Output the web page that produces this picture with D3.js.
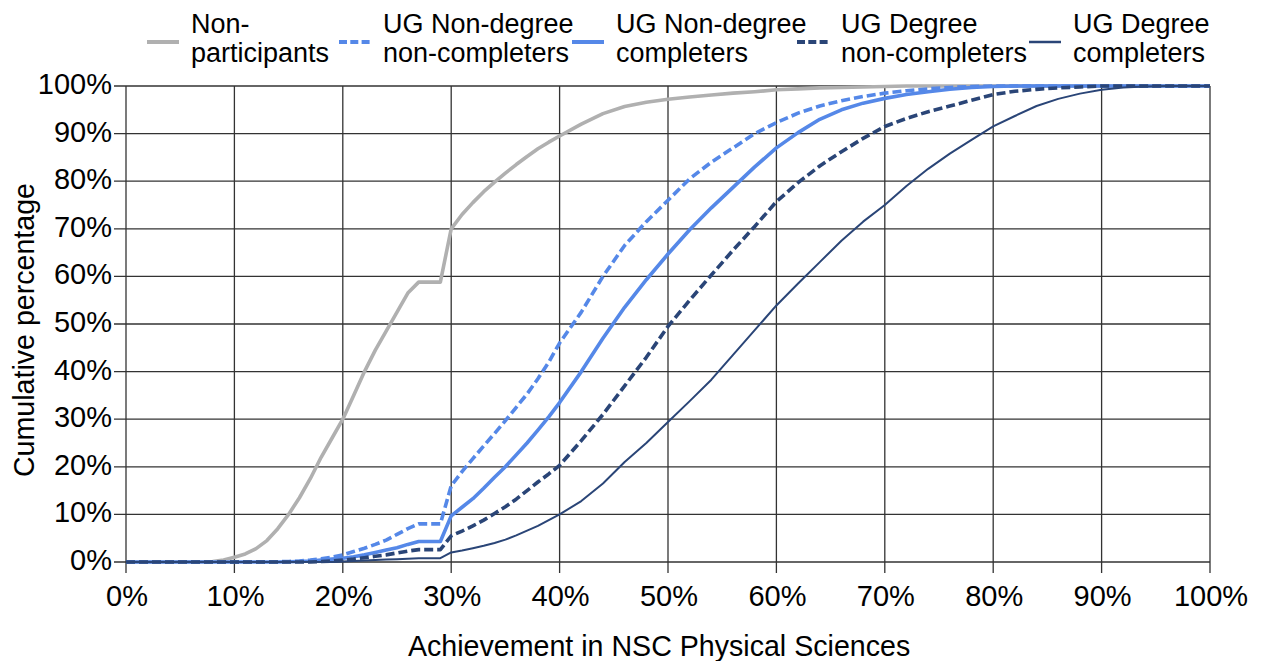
<!DOCTYPE html>
<html>
<head>
<meta charset="utf-8">
<script src="https://cdn.jsdelivr.net/npm/d3@7"></script>
<style>
  html, body { margin: 0; padding: 0; background: #fff; }
  svg { display: block; font-family: "Liberation Sans", Arial, sans-serif; }
</style>
</head>
<body>
<svg id="chart" width="1261" height="661"></svg>
<script>
// Achievement levels (x, %)
const xs = [0,5,8,9,10,11,12,13,14,15,16,17,18,19,20,21,22,23,24,25,26,27,28,29,30,31,32,33,34,35,36,37,38,39,40,42,44,46,48,50,52,54,56,58,60,62,64,66,68,70,72,74,76,78,80,82,84,86,88,90,92,94,96,98,100];

const nonParticipants = [0,0,0.1,0.4,1.0,1.7,2.8,4.5,7,10,13.5,17.5,22,26,30,35,40,44.5,48.5,52.5,56.5,58.8,58.8,58.8,70,73,75.5,77.8,79.8,81.7,83.5,85.2,86.8,88.2,89.5,
  92,94.2,95.7,96.6,97.2,97.7,98.1,98.5,98.8,99.2,99.4,99.6,99.7,99.8,99.9,100,100,100,100,100,100,100,100,100,100,100,100,100,100,100];

const ugNonDegreeNonCompleters = [0,0,0,0,0,0,0,0,0.05,0.1,0.2,0.4,0.7,1.0,1.5,2.2,2.9,3.7,4.6,5.8,7,8,8,8,16,19,21.7,24.4,27,29.7,32.5,35.3,38.5,42,46,
  52.5,60,66.5,71.5,76,80.5,84,87,90,92.3,94.3,95.8,96.9,97.8,98.5,99,99.4,99.7,99.9,100,100,100,100,100,100,100,100,100,100,100];

const ugNonDegreeCompleters = [0,0,0,0,0,0,0,0,0,0.05,0.1,0.2,0.4,0.6,0.8,1.1,1.5,2.0,2.5,3.0,3.7,4.3,4.3,4.3,9.7,11.5,13.3,15.5,17.8,20,22.5,25,27.7,30.5,33.5,
  40,47,53.5,59.3,64.7,69.8,74.4,78.7,83,87,90.2,93,95,96.4,97.4,98.2,98.8,99.3,99.7,99.9,100,100,100,100,100,100,100,100,100,100];

const ugDegreeNonCompleters = [0,0,0,0,0,0,0,0,0,0,0,0,0.1,0.2,0.4,0.6,0.9,1.2,1.5,1.9,2.3,2.6,2.6,2.6,5.5,6.5,7.6,8.8,10.2,11.6,13.2,15,16.8,18.5,20.3,
  25.5,31,37,43,49.5,55,60.3,65.5,70.5,75.7,79.7,83.2,86.2,89,91.5,93.2,94.6,95.8,97,98.2,98.9,99.3,99.6,99.8,100,100,100,100,100,100];

const ugDegreeCompleters = [0,0,0,0,0,0,0,0,0,0,0,0,0,0,0.1,0.2,0.3,0.4,0.5,0.6,0.7,0.8,0.8,0.8,2,2.4,2.9,3.4,4,4.7,5.6,6.6,7.6,8.8,10,
  12.8,16.5,21,25,29.4,33.8,38.3,43.5,48.7,53.9,58.5,63,67.5,71.5,75,79,82.6,85.8,88.7,91.5,93.7,95.8,97.3,98.4,99.2,99.7,99.9,100,100,100];

const seriesNames = [["Non-","participants"],["UG Non-degree","non-completers"],["UG Non-degree","completers"],["UG Degree","non-completers"],["UG Degree","completers"]];
const xTicks = [0,10,20,30,40,50,60,70,80,90,100];
const yTicks = [0,10,20,30,40,50,60,70,80,90,100];
const xTitle = "Achievement in NSC Physical Sciences";
const yTitle = "Cumulative percentage";

const styles = [
  {color: "#b0b0b0", width: 3.6, dash: null},
  {color: "#5588e8", width: 3.6, dash: "9,4"},
  {color: "#5588e8", width: 3.6, dash: null},
  {color: "#2a4577", width: 3.6, dash: "9,4"},
  {color: "#2a4577", width: 2.0, dash: null}
];
const allSeries = [nonParticipants, ugNonDegreeNonCompleters, ugNonDegreeCompleters, ugDegreeNonCompleters, ugDegreeCompleters];

const svg = d3.select("#chart");
const x = d3.scaleLinear().domain([0, 100]).range([126, 1210]);
const y = d3.scaleLinear().domain([0, 100]).range([562, 86]);
const gridColor = "#333";

// gridlines
svg.append("g").selectAll("line").data(yTicks).join("line")
  .attr("x1", x(0) - 12).attr("x2", x(100))
  .attr("y1", d => y(d)).attr("y2", d => y(d))
  .attr("stroke", gridColor).attr("stroke-width", 1.3);
svg.append("g").selectAll("line").data(xTicks).join("line")
  .attr("x1", d => x(d)).attr("x2", d => x(d))
  .attr("y1", y(100)).attr("y2", y(0) + 11)
  .attr("stroke", gridColor).attr("stroke-width", 1.3);

// tick labels
svg.append("g").selectAll("text").data(yTicks).join("text")
  .attr("x", x(0) - 14).attr("y", d => y(d) + 8)
  .attr("text-anchor", "end").attr("font-size", 29).attr("fill", "#000")
  .text(d => d + "%");
svg.append("g").selectAll("text").data(xTicks).join("text")
  .attr("x", d => x(d) + 1).attr("y", 606)
  .attr("text-anchor", "middle").attr("font-size", 29).attr("fill", "#000")
  .text(d => d + "%");

// axis titles
svg.append("text").attr("x", 408).attr("y", 656).attr("font-size", 28.6).attr("fill", "#000").text(xTitle);
svg.append("text").attr("transform", "translate(34,330) rotate(-90)")
  .attr("text-anchor", "middle").attr("font-size", 28.6).attr("fill", "#000").text(yTitle);

// lines
const line = d3.line().x((d, i) => x(xs[i])).y(d => y(d));
allSeries.forEach((s, k) => {
  svg.append("path").datum(s)
    .attr("d", line)
    .attr("fill", "none")
    .attr("stroke", styles[k].color)
    .attr("stroke-width", styles[k].width)
    .attr("stroke-linejoin", "round")
    .attr("stroke-dasharray", styles[k].dash);
});

// legend
const legX = [147, 339, 572, 797, 1029];
const lg = svg.append("g");
seriesNames.forEach((nm, k) => {
  lg.append("line")
    .attr("x1", legX[k]).attr("x2", legX[k] + 32)
    .attr("y1", 42).attr("y2", 42)
    .attr("stroke", styles[k].color)
    .attr("stroke-width", k === 4 ? 2.5 : 4)
    .attr("stroke-dasharray", styles[k].dash ? "8,3.3" : null);
  const t = lg.append("text").attr("font-size", 27).attr("fill", "#000");
  t.append("tspan").attr("x", legX[k] + 44).attr("y", 33).text(nm[0]);
  t.append("tspan").attr("x", legX[k] + 44).attr("y", 61.5).text(nm[1]);
});
</script>
</body>
</html>
